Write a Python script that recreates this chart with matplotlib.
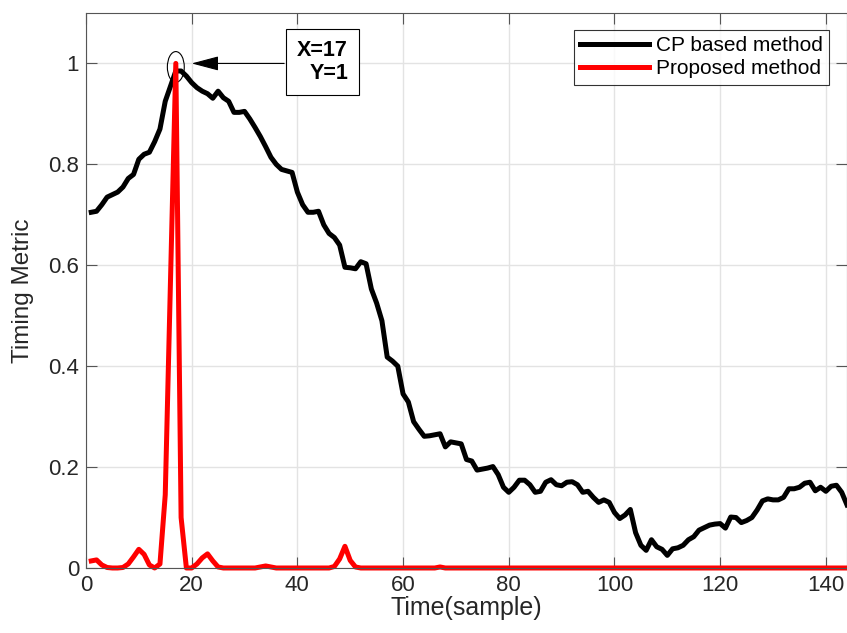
import numpy as np
import matplotlib
matplotlib.use('Agg')
import matplotlib.pyplot as plt
from matplotlib.patches import Ellipse

plt.rcParams['font.family'] = ['Liberation Sans', 'DejaVu Sans']

# sample index 1..144
samples = np.arange(1, 145)

# CP based method timing metric
cp_metric = [
    0.705, 0.707, 0.720, 0.735, 0.740, 0.745, 0.755, 0.772, 0.780, 0.810,
    0.820, 0.824, 0.845, 0.870, 0.925, 0.955, 0.985, 0.985, 0.975, 0.962,
    0.952, 0.945, 0.940, 0.931, 0.945, 0.932, 0.925, 0.903, 0.903, 0.905,
    0.890, 0.873, 0.855, 0.835, 0.814, 0.800, 0.790, 0.787, 0.784, 0.745,
    0.720, 0.705, 0.705, 0.707, 0.680, 0.663, 0.655, 0.640, 0.596, 0.595,
    0.593, 0.607, 0.603, 0.553, 0.525, 0.490, 0.418, 0.410, 0.400, 0.345,
    0.329, 0.290, 0.275, 0.261, 0.262, 0.264, 0.266, 0.240, 0.250, 0.248,
    0.246, 0.215, 0.212, 0.194, 0.196, 0.198, 0.201, 0.185, 0.160, 0.150,
    0.160, 0.174, 0.174, 0.165, 0.150, 0.152, 0.170, 0.175, 0.165, 0.163,
    0.170, 0.171, 0.165, 0.150, 0.152, 0.140, 0.130, 0.135, 0.130, 0.110,
    0.098, 0.105, 0.116, 0.070, 0.045, 0.035, 0.056, 0.042, 0.037, 0.025,
    0.038, 0.040, 0.045, 0.056, 0.062, 0.075, 0.080, 0.085, 0.087, 0.088,
    0.079, 0.101, 0.100, 0.090, 0.094, 0.100, 0.115, 0.133, 0.137, 0.135,
    0.135, 0.140, 0.157, 0.157, 0.160, 0.168, 0.170, 0.153, 0.160, 0.152,
    0.162, 0.164, 0.150, 0.125,
]

# proposed method timing metric
proposed = np.zeros(144)
proposed_nonzero = {
    1: 0.014, 2: 0.016, 3: 0.006, 4: 0.001, 7: 0.001, 8: 0.008, 9: 0.022,
    10: 0.037, 11: 0.027, 12: 0.006, 14: 0.008, 15: 0.145, 16: 0.57,
    17: 1.0, 18: 0.10, 21: 0.008, 22: 0.020, 23: 0.028, 24: 0.014,
    25: 0.002, 33: 0.002, 34: 0.004, 35: 0.002, 47: 0.003, 48: 0.018,
    49: 0.043, 50: 0.015, 51: 0.002, 67: 0.002,
}
for k, v in proposed_nonzero.items():
    proposed[k - 1] = v

peak_x, peak_y = 17, 1

fig = plt.figure(figsize=(8.47, 6.33), dpi=100)
ax = fig.add_axes([0.1015, 0.1027, 0.8985, 0.8768])

ax.plot(samples, cp_metric, color='black', lw=3.6, label='CP based method')
ax.plot(samples, proposed, color='red', lw=3.6, label='Proposed method', clip_on=False)

ax.set_xlim(0, 144)
ax.set_ylim(0, 1.1)
ax.set_xticks(np.arange(0, 141, 20))
ax.set_yticks([0, 0.2, 0.4, 0.6, 0.8, 1])
ax.set_yticklabels(['0', '0.2', '0.4', '0.6', '0.8', '1'])
ax.grid(True, color='#e3e3e3', lw=1)
ax.set_axisbelow(True)
ax.tick_params(direction='in', length=8, width=0.8, top=True, right=True,
               labelsize=16, colors='#555555', labelcolor='#262626', pad=5)
for s in ax.spines.values():
    s.set_color('#555555')
    s.set_linewidth(0.8)

ax.set_xlabel('Time(sample)', fontsize=18, color='#262626', labelpad=0)
ax.set_ylabel('Timing Metric', fontsize=17.5, color='#262626', labelpad=10)

leg = ax.legend(loc='upper right', bbox_to_anchor=(829 / 847, (633 - 30) / 633),
                bbox_transform=fig.transFigure, fontsize=15, frameon=True,
                fancybox=False, edgecolor='black', handlelength=3.3,
                labelspacing=0.2, borderpad=0.3, handletextpad=0.35,
                borderaxespad=0)
leg.get_frame().set_linewidth(0.8)

# data tip
ax.add_patch(Ellipse((peak_x, 0.993), 3.2, 0.061, fill=False, ec='black',
                     lw=0.8, clip_on=False))
ax.annotate('', xy=(20, peak_y), xytext=(37.5, peak_y),
            arrowprops=dict(arrowstyle='-|>,head_length=1.7,head_width=0.45',
                            color='black', lw=0.8, shrinkA=0, shrinkB=0))
ax.text(49.6, 1.003, 'X=%d\nY=%d' % (peak_x, peak_y), ha='right', va='center',
        multialignment='right', fontsize=15.5, fontweight='bold',
        linespacing=1.15,
        bbox=dict(boxstyle='square,pad=0.5', fc='white', ec='black', lw=0.8))

fig.savefig('out.png', dpi=100)
